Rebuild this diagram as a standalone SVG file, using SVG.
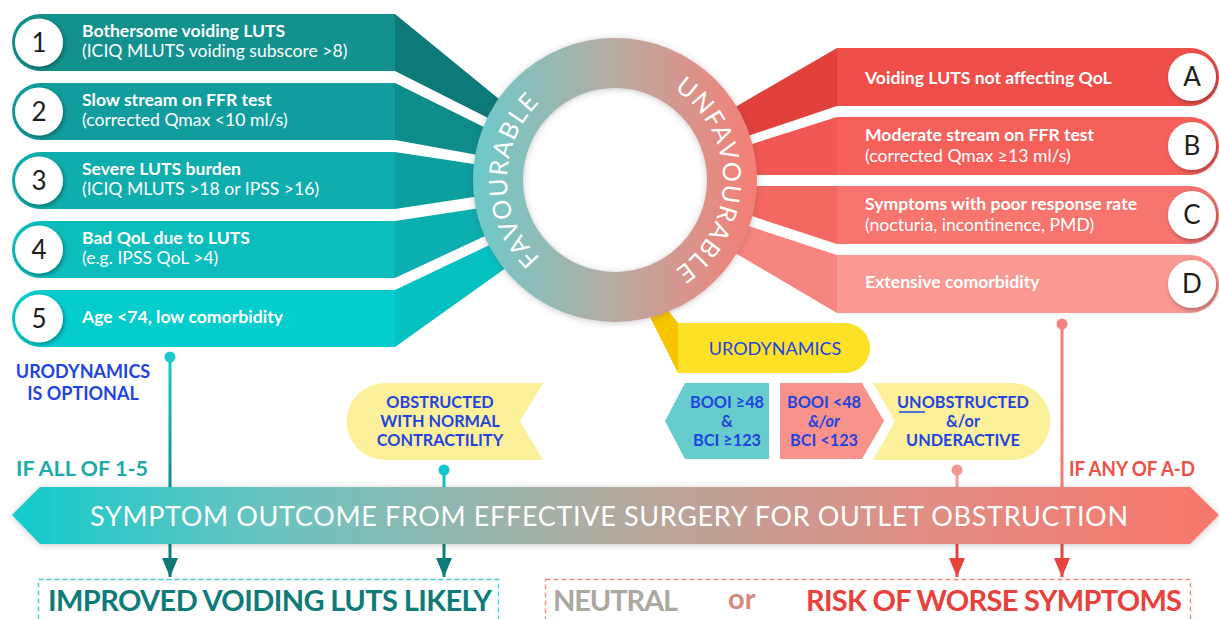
<svg xmlns="http://www.w3.org/2000/svg" width="1219" height="619" viewBox="0 0 1219 619">
  <defs>
    <style>
      text { font-family: Lato, "Open Sans", "Liberation Sans", sans-serif; }
      .ttl { font-size: 17.6px; font-weight: bold; fill: #ffffff; }
      .sub { font-size: 17.6px; fill: #ffffff; }
      .num { font-size: 26px; fill: #1c1c1c; text-anchor: middle; }
      .ring-txt { font-size: 25px; fill: #ffffff; letter-spacing: 1.5px; }
      .blue { font-size: 16.3px; font-weight: bold; fill: #1f44e0; text-anchor: middle; }
      .note { font-size: 18px; }
      .cond { font-size: 20px; font-weight: bold; }
      .result { font-size: 29px; font-weight: bold; }
      .badge { fill: #ffffff; filter: url(#shadow); }
    </style>
    <linearGradient id="ringGrad" gradientUnits="userSpaceOnUse" x1="473" y1="0" x2="757" y2="0">
      <stop offset="0" stop-color="#6ccaca"/>
      <stop offset="0.5" stop-color="#b8aba2"/>
      <stop offset="1" stop-color="#f67e75"/>
    </linearGradient>
    <linearGradient id="bandGrad" gradientUnits="userSpaceOnUse" x1="12" y1="0" x2="1219" y2="0">
      <stop offset="0" stop-color="#12cbcb"/>
      <stop offset="0.22" stop-color="#6dc3bf"/>
      <stop offset="0.48" stop-color="#aeaca1"/>
      <stop offset="0.75" stop-color="#e08e84"/>
      <stop offset="1" stop-color="#f8766b"/>
    </linearGradient>
    <linearGradient id="tealLine" gradientUnits="userSpaceOnUse" x1="0" y1="357" x2="0" y2="487">
      <stop offset="0" stop-color="#1cc8c8"/>
      <stop offset="1" stop-color="#138a8a"/>
    </linearGradient>
    <filter id="shadow" x="-30%" y="-30%" width="160%" height="160%">
      <feDropShadow dx="1.5" dy="2" stdDeviation="2" flood-color="#000000" flood-opacity="0.35"/>
    </filter>
    <filter id="soft" x="-20%" y="-20%" width="140%" height="140%">
      <feDropShadow dx="0" dy="1" stdDeviation="3" flood-color="#4a4a4a" flood-opacity="0.3"/>
    </filter>
    <marker id="headTeal" markerUnits="userSpaceOnUse" markerWidth="20" markerHeight="18" refX="19" refY="8" orient="auto">
      <path d="M0,0 L19,8 L0,16 z" fill="#0e7b79"/>
    </marker>
    <marker id="headRed" markerUnits="userSpaceOnUse" markerWidth="20" markerHeight="18" refX="19" refY="8" orient="auto">
      <path d="M0,0 L19,8 L0,16 z" fill="#e8443d"/>
    </marker>
    <path id="arcLeft" d="M561,273.5 A108,108 0 0 1 561,86.5"/>
    <path id="arcRight" d="M633.7,73.6 A108,108 0 0 1 633.7,286.4"/>
  </defs>

  <rect width="1219" height="619" fill="#ffffff"/>

  <!-- favourable criteria 1-5 -->
  <g id="criterion-1">
    <polygon points="395,14 510,108 500,124 395,71" fill="#0c7a79"/>
    <path d="M395,14 H40.5 A28.5,28.5 0 0 0 40.5,71 H395 Z" fill="#13918f"/>
    <circle class="badge" cx="39" cy="42.5" r="24"/>
    <text class="num" x="39" y="51.5">1</text>
    <text class="ttl" x="82" y="37">Bothersome voiding LUTS</text>
    <text class="sub" x="82" y="57">(ICIQ MLUTS voiding subscore &gt;8)</text>
  </g>
  <g id="criterion-2">
    <polygon points="395,83 500,135 500,159 395,140" fill="#0e8b8b"/>
    <path d="M395,83 H40.5 A28.5,28.5 0 0 0 40.5,140 H395 Z" fill="#119d9d"/>
    <circle class="badge" cx="39" cy="111.5" r="24"/>
    <text class="num" x="39" y="120.5">2</text>
    <text class="ttl" x="82" y="106">Slow stream on FFR test</text>
    <text class="sub" x="82" y="126">(corrected Qmax &lt;10 ml/s)</text>
  </g>
  <g id="criterion-3">
    <polygon points="395,152 500,168 500,193 395,209" fill="#0d9e9e"/>
    <path d="M395,152 H40.5 A28.5,28.5 0 0 0 40.5,209 H395 Z" fill="#0fadad"/>
    <circle class="badge" cx="39" cy="180.5" r="24"/>
    <text class="num" x="39" y="189.5">3</text>
    <text class="ttl" x="82" y="175">Severe LUTS burden</text>
    <text class="sub" x="82" y="195">(ICIQ MLUTS &gt;18 or IPSS &gt;16)</text>
  </g>
  <g id="criterion-4">
    <polygon points="395,221 500,205 500,229 395,278" fill="#0bafaf"/>
    <path d="M395,221 H40.5 A28.5,28.5 0 0 0 40.5,278 H395 Z" fill="#0cbdbd"/>
    <circle class="badge" cx="39" cy="249.5" r="24"/>
    <text class="num" x="39" y="258.5">4</text>
    <text class="ttl" x="82" y="244">Bad QoL due to LUTS</text>
    <text class="sub" x="82" y="264">(e.g. IPSS QoL &gt;4)</text>
  </g>
  <g id="criterion-5">
    <polygon points="395,290 500,240 510,265 395,347" fill="#06c1c1"/>
    <path d="M395,290 H40.5 A28.5,28.5 0 0 0 40.5,347 H395 Z" fill="#05cdcd"/>
    <circle class="badge" cx="39" cy="318.5" r="24"/>
    <text class="num" x="39" y="327.5">5</text>
    <text class="ttl" x="82" y="323">Age &lt;74, low comorbidity</text>
  </g>

  <!-- unfavourable criteria A-D -->
  <g id="criterion-A">
    <polygon points="837,48 725,113 730,142 837,106" fill="#e2403b"/>
    <path d="M837,48 H1190 A29,29 0 0 1 1190,106 H837 Z" fill="#f04e49"/>
    <circle class="badge" cx="1192" cy="77" r="24"/>
    <text class="num" x="1192" y="86">A</text>
    <text class="ttl" x="865" y="84">Voiding LUTS not affecting QoL</text>
  </g>
  <g id="criterion-B">
    <polygon points="837,117 730,151 730,175 837,175" fill="#f15853"/>
    <path d="M837,117 H1190 A29,29 0 0 1 1190,175 H837 Z" fill="#f6605b"/>
    <circle class="badge" cx="1192" cy="146" r="24"/>
    <text class="num" x="1192" y="155">B</text>
    <text class="ttl" x="865" y="141">Moderate stream on FFR test</text>
    <text class="sub" x="865" y="162">(corrected Qmax ≥13 ml/s)</text>
  </g>
  <g id="criterion-C">
    <polygon points="837,186 730,186 730,209 837,244" fill="#f46863"/>
    <path d="M837,186 H1190 A29,29 0 0 1 1190,244 H837 Z" fill="#f7746f"/>
    <circle class="badge" cx="1192" cy="215" r="24"/>
    <text class="num" x="1192" y="224">C</text>
    <text class="ttl" x="865" y="210">Symptoms with poor response rate</text>
    <text class="sub" x="865" y="231">(nocturia, incontinence, PMD)</text>
  </g>
  <g id="criterion-D">
    <polygon points="837,255 730,220 730,250 837,313" fill="#f7857f"/>
    <path d="M837,255 H1190 A29,29 0 0 1 1190,313 H837 Z" fill="#fa9892"/>
    <circle class="badge" cx="1192" cy="284" r="24"/>
    <text class="num" x="1192" y="293">D</text>
    <text class="ttl" x="865" y="288">Extensive comorbidity</text>
  </g>

  <!-- urodynamics tab emerging from the ring -->
  <g id="urodynamics">
    <polygon points="650,317 668,310 678,323 678,373" fill="#f6c400"/>
    <path d="M678,323 H845 A25,25 0 0 1 845,373 H678 Z" fill="#fde126"/>
    <text class="blue" x="775" y="355" style="font-weight:normal;font-size:18px">URODYNAMICS</text>
  </g>

  <!-- central ring -->
  <g id="ring">
    <circle cx="615" cy="180" r="117" fill="none" stroke="url(#ringGrad)" stroke-width="50" filter="url(#soft)"/>
    <text class="ring-txt"><textPath href="#arcLeft" startOffset="50%" text-anchor="middle">FAVOURABLE</textPath></text>
    <text class="ring-txt"><textPath href="#arcRight" startOffset="50%" text-anchor="middle">UNFAVOURABLE</textPath></text>
  </g>

  <!-- urodynamic findings -->
  <g id="obstructed">
    <path d="M543,383 H385 A38.5,38.5 0 0 0 385,460 H543 L520,421.5 Z" fill="#fdf09a"/>
    <text class="blue" x="440" y="408">OBSTRUCTED</text>
    <text class="blue" x="440" y="427">WITH NORMAL</text>
    <text class="blue" x="440" y="446">CONTRACTILITY</text>
  </g>
  <g id="booi-high">
    <polygon points="665,421 685,383 769,383 769,459 685,459" fill="#66cccc"/>
    <text class="blue" x="727" y="408">BOOI ≥48</text>
    <text class="blue" x="727" y="427">&amp;</text>
    <text class="blue" x="727" y="446">BCI ≥123</text>
  </g>
  <g id="booi-low">
    <polygon points="780,383 862,383 884,421 862,459 780,459" fill="#f7938a"/>
    <text class="blue" x="824" y="408">BOOI &lt;48</text>
    <text class="blue" x="824" y="427" font-style="italic">&amp;/or</text>
    <text class="blue" x="824" y="446">BCI &lt;123</text>
  </g>
  <g id="unobstructed">
    <path d="M873,383 H1012 A38.5,38.5 0 0 1 1012,460 H873 L895,421.5 Z" fill="#fdf09a"/>
    <text class="blue" x="963" y="408">UNOBSTRUCTED</text>
    <line x1="899" y1="412" x2="925" y2="412" stroke="#1f44e0" stroke-width="1.5"/>
    <text class="blue" x="963" y="427">&amp;/or</text>
    <text class="blue" x="963" y="446">UNDERACTIVE</text>
  </g>

  <!-- side notes -->
  <g id="notes">
    <text class="blue note" x="83" y="378">URODYNAMICS</text>
    <text class="blue note" x="83" y="400">IS OPTIONAL</text>
    <text class="cond" x="16" y="476" fill="#1eaaa8" textLength="132" lengthAdjust="spacingAndGlyphs">IF ALL OF 1-5</text>
    <text class="cond" x="1069" y="476" fill="#ee5048" textLength="126" lengthAdjust="spacingAndGlyphs">IF ANY OF A-D</text>
  </g>

  <!-- connectors -->
  <g id="connectors" fill="none" stroke-width="3">
    <line x1="170" y1="357" x2="170" y2="488" stroke="url(#tealLine)"/>
    <circle cx="170" cy="357" r="5.5" fill="#1cc8c8" stroke="none"/>
    <line x1="170" y1="544" x2="170" y2="577" stroke="#0e7b79" marker-end="url(#headTeal)"/>

    <line x1="444" y1="470" x2="444" y2="488" stroke="#10c4c4"/>
    <circle cx="444" cy="470" r="5.5" fill="#10c8c8" stroke="none"/>
    <line x1="444" y1="544" x2="444" y2="577" stroke="#0e7b79" marker-end="url(#headTeal)"/>

    <line x1="957" y1="470" x2="957" y2="488" stroke="#f3a098"/>
    <circle cx="957" cy="470" r="5.5" fill="#f5968e" stroke="none"/>
    <line x1="957" y1="544" x2="957" y2="577" stroke="#e8443d" marker-end="url(#headRed)"/>

    <line x1="1062" y1="324" x2="1062" y2="488" stroke="#f47d76"/>
    <circle cx="1062" cy="324" r="5.5" fill="#f4847c" stroke="none"/>
    <line x1="1062" y1="544" x2="1062" y2="577" stroke="#e8443d" marker-end="url(#headRed)"/>
  </g>

  <!-- outcome band -->
  <g id="outcome-band">
    <polygon points="12,515 40,487 1190,487 1219,515 1190,544 40,544" fill="url(#bandGrad)" filter="url(#soft)"/>
    <text x="609" y="526" text-anchor="middle" font-size="27" fill="#ffffff" textLength="1038" lengthAdjust="spacing">SYMPTOM OUTCOME FROM EFFECTIVE SURGERY FOR OUTLET OBSTRUCTION</text>
  </g>

  <!-- outcomes -->
  <g id="outcome-improved">
    <rect x="38.5" y="579.5" width="460" height="60" fill="none" stroke="#3fcfd0" stroke-width="1.3" stroke-dasharray="5 3"/>
    <text class="result" x="48" y="611" fill="#0e7b78" textLength="444" lengthAdjust="spacing">IMPROVED VOIDING LUTS LIKELY</text>
  </g>
  <g id="outcome-worse">
    <rect x="545.5" y="579.5" width="645" height="60" fill="none" stroke="#f5877f" stroke-width="1.3" stroke-dasharray="5 3"/>
    <text class="result" x="553" y="611" fill="#aaa89f" textLength="125" lengthAdjust="spacing">NEUTRAL</text>
    <text class="result" x="728" y="609" fill="#d6897e" font-size="26">or</text>
    <text class="result" x="806" y="611" fill="#e8413b" textLength="376" lengthAdjust="spacing">RISK OF WORSE SYMPTOMS</text>
  </g>
</svg>
